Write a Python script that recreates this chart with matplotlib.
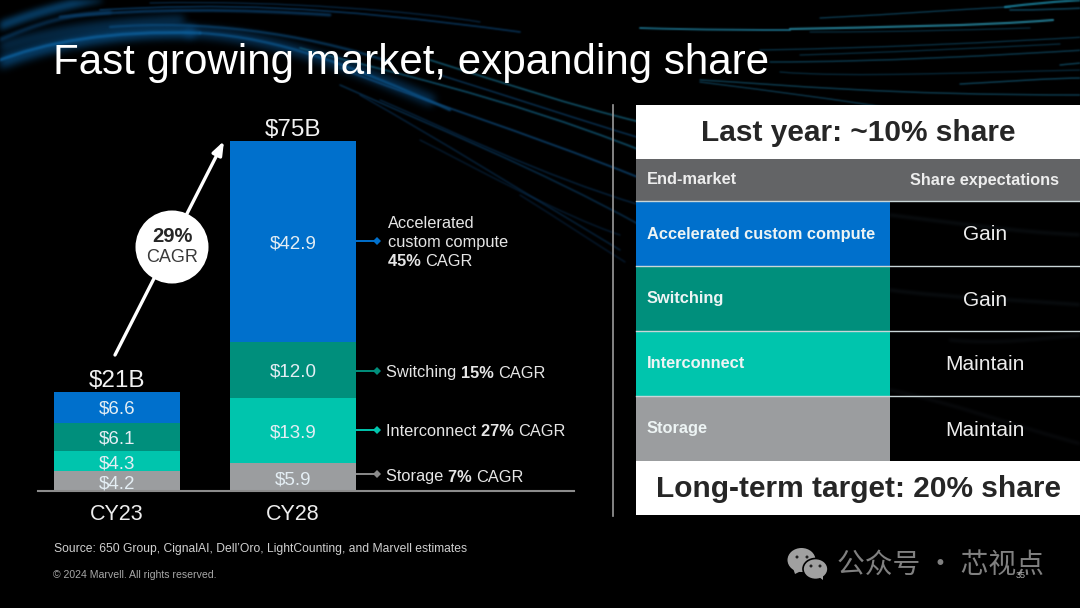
import matplotlib
matplotlib.use("Agg")
import numpy as np
import matplotlib.pyplot as plt
from matplotlib.colors import to_rgb
from matplotlib.patches import Rectangle, Circle, Ellipse, PathPatch, Polygon
from matplotlib.path import Path

# ---- data ----
years = ["CY23", "CY28"]
segments = ["Storage", "Interconnect", "Switching", "Accelerated custom compute"]
storage = [4.2, 5.9]
interconnect = [4.3, 13.9]
switching = [6.1, 12.0]
accelerated = [6.6, 42.9]
total_labels = ["$21B", "$75B"]
table_rows = ["Accelerated custom compute", "Switching", "Interconnect", "Storage"]
table_share = ["Gain", "Gain", "Maintain", "Maintain"]

BLUE, DTEAL, LTEAL, GREY = "#0070CC", "#008F7C", "#00C5AD", "#9B9D9F"
FONT = "Liberation Sans"
plt.rcParams["font.family"] = [FONT, "DejaVu Sans"]

W, H = 1080, 608
fig = plt.figure(figsize=(W / 100, H / 100), dpi=100, facecolor="black")


def pixel_axes(z):
    a = fig.add_axes([0, 0, 1, 1], zorder=z)
    a.set_xlim(0, W)
    a.set_ylim(H, 0)
    a.axis("off")
    a.patch.set_alpha(0)
    return a


def blur(sigma, color):
    """agg filter: blurs only the alpha of a streak and keeps its colour."""
    pad = int(np.ceil(sigma * 3))
    k = np.exp(-0.5 * (np.arange(-pad, pad + 1) / sigma) ** 2)
    k /= k.sum()
    rgb = to_rgb(color)

    def f(im, dpi):
        a = np.pad(im[..., 3], pad)
        a = np.apply_along_axis(lambda m: np.convolve(m, k, mode="same"), 0, a)
        a = np.apply_along_axis(lambda m: np.convolve(m, k, mode="same"), 1, a)
        out = np.zeros(a.shape + (4,))
        out[..., 0], out[..., 1], out[..., 2] = rgb
        out[..., 3] = a
        return out, -pad, -pad
    return f


# ---- decorative background streaks ----
bg = pixel_axes(0)
streaks = [
    # soft glow of the left band
    ((-10, 66), (40, 46), (110, 30), (190, 32), "#0A5A98", 9, .7, 4),
    ((190, 32), (270, 36), (340, 62), (430, 100), "#0A4E86", 8, .6, 4),
    ((-10, 50), (40, 34), (90, 24), (180, 20), "#0A4C80", 7, .6, 4),
    ((-10, 30), (30, 14), (60, 6), (100, -2), "#0B5E9C", 6, .7, 3),
    # crisper strands in the band
    ((-5, 62), (45, 42), (110, 30), (200, 33), "#0D62A0", 2, .8, 1),
    ((200, 33), (280, 38), (350, 65), (450, 110), "#0D5E9A", 1.6, .75, 1),
    ((110, 27), (200, 20), (300, 32), (390, 62), "#0C5288", 1.6, .7, 1),
    ((-5, 42), (40, 22), (70, 14), (110, 12), "#0A4474", 2.5, .7, 1.5),
    ((60, 17), (150, 8), (240, 9), (330, 15), "#0A3F6C", 2, .8, 1),
    ((100, 10), (220, 3), (320, 5), (520, 32), "#0A3F6C", 1.2, .8, .8),
    ((150, 3), (280, 0), (420, 12), (480, 22), "#0A3860", 1, .7, .8),
    # dim rays toward the lower right
    ((340, 68), (420, 100), (520, 130), (640, 178), "#0E4E82", 1.3, .75, .8),
    ((300, 48), (380, 70), (500, 95), (640, 150), "#14688C", 1.2, .75, .8),
    ((340, 85), (430, 125), (540, 170), (640, 225), "#0C4674", 1.1, .65, .8),
    ((360, 95), (440, 140), (520, 190), (620, 250), "#0B3E6C", 1, .6, .8),
    ((380, 100), (450, 130), (540, 175), (640, 205), "#0B3E6C", 1, .6, .8),
    ((420, 140), (470, 165), (560, 215), (620, 235), "#0A345C", 1, .55, .8),
    ((430, 60), (510, 85), (570, 105), (640, 122), "#176F8E", 1.1, .8, .8),
    ((440, 75), (520, 100), (580, 120), (640, 138), "#0E4E82", 1, .7, .8),
    ((520, 195), (560, 220), (590, 240), (625, 262), "#0A3058", 1, .55, .8),
    # right teal strands
    ((640, 28), (700, 30), (760, 30), (790, 30), "#1B6E88", 1.4, .9, .7),
    ((790, 29), (880, 27), (980, 26), (1053, 20), "#237A90", 1.6, .95, .7),
    ((820, 18), (900, 14), (980, 8), (1010, 7), "#0F4A66", 1, .8, .7),
    ((1005, 7), (1030, 4), (1060, 1), (1085, 0), "#18768F", 1.6, .95, .7),
    ((1010, 10), (1040, 10), (1060, 9), (1085, 8), "#104E68", 1.2, .8, .7),
    ((810, 32), (900, 32), (960, 30), (1030, 28), "#0C3E56", 1, .7, .7),
    ((760, 50), (880, 48), (1000, 42), (1085, 37), "#0C3E56", 1, .8, .7),
    ((800, 55), (900, 52), (980, 48), (1060, 44), "#0C3E56", 1, .7, .7),
    ((770, 62), (880, 62), (1000, 55), (1085, 50), "#0E465E", 1.1, .8, .7),
    ((1060, 65), (1070, 64), (1078, 63), (1085, 63), "#104E68", 1.1, .8, .7),
    ((780, 72), (850, 78), (980, 72), (1085, 70), "#0B3A52", 1, .7, .7),
    ((960, 84), (1000, 82), (1050, 78), (1085, 78), "#104E68", 1.1, .8, .7),
    ((700, 80), (790, 85), (880, 95), (1085, 95), "#104A62", 1.1, .8, .7),
    ((700, 82), (780, 92), (840, 100), (890, 108), "#0E4058", 1.1, .8, .7),
    # very faint strands behind the table's dark column
    ((890, 215), (950, 222), (1010, 232), (1085, 235), "#0D1216", 2, .9, 1.5),
    ((890, 290), (950, 298), (1020, 300), (1085, 305), "#0D1216", 2, .9, 1.5),
    ((950, 340), (1000, 345), (1040, 338), (1085, 335), "#0C0F12", 2, .9, 1.5),
    ((890, 390), (950, 402), (1010, 425), (1085, 445), "#0B0D10", 2, .9, 1.5),
]
for p0, p1, p2, p3, col, lw, al, sig in streaks:
    path = Path([p0, p1, p2, p3], [Path.MOVETO, Path.CURVE4, Path.CURVE4, Path.CURVE4])
    patch = PathPatch(path, fc="none", ec=col, lw=lw, alpha=al, capstyle="round")
    patch.set_agg_filter(blur(sig, col))
    bg.add_patch(patch)

# ---- stacked bars ----
left, right, base, top = 38, 574, 491, 141
ax = fig.add_axes([left / W, 1 - base / H, (right - left) / W, (base - top) / H], zorder=1)
ax.patch.set_alpha(0)
x = [0, 1]
ax.set_xlim((left - 116.8) / 176.2, (right - 116.8) / 176.2)
ax.set_ylim(0, sum(v[1] for v in (storage, interconnect, switching, accelerated)))
bottom = [0, 0]
for vals, col in zip((storage, interconnect, switching, accelerated), (GREY, LTEAL, DTEAL, BLUE)):
    ax.bar(x, vals, 0.717, bottom=bottom, color=col, linewidth=0, clip_on=False)
    for xi, b, v in zip(x, bottom, vals):
        ax.annotate(f"${v:.1f}", (xi, b + v / 2), xytext=(0, -1.7), textcoords="offset points",
                    ha="center", va="center", color="#E4EEF4", fontsize=13.5, annotation_clip=False)
    bottom = [b + v for b, v in zip(bottom, vals)]
for xi, b, lab in zip(x, bottom, total_labels):
    ax.annotate(lab, (xi, b), xytext=(0, 0), textcoords="offset points", ha="center", va="bottom",
                color="#F2F2F2", fontsize=17.5, annotation_clip=False)
ax.set_xticks(x, years)
ax.tick_params(axis="x", length=0, pad=9.5, labelsize=15.5, labelcolor="#EDEDED")
ax.set_yticks([])
for s in ("top", "left", "right"):
    ax.spines[s].set_visible(False)
ax.spines["bottom"].set_color("#8C8C8C")
ax.spines["bottom"].set_linewidth(1.5)

# ---- overlay ----
ov = pixel_axes(2)
renderer = fig.canvas.get_renderer()


def runs(x0, y, parts, size, color="#E6E6E6"):
    """Draw consecutive text runs; each part is (text, bold)."""
    cx = x0
    for txt, bold in parts:
        t = ov.text(cx, y, txt, fontsize=size, color=color, va="center",
                    fontweight="bold" if bold else "normal")
        cx = t.get_window_extent(renderer).x1


ov.text(53, 74, "Fast growing market, expanding share", fontsize=30.3, color="white", va="baseline")

# growth arrow and bubble
ov.annotate("", xy=(224, 141), xytext=(115, 355),
            arrowprops=dict(arrowstyle="-|>,head_length=0.8,head_width=0.3", color="white", lw=2.4,
                            shrinkA=0, shrinkB=0))
ov.add_patch(Circle((172, 247), 36.5, fc="white", ec="none", zorder=5))
ov.text(172, 237, "29%", fontsize=14.5, fontweight="bold", color="#262626", ha="center", va="center", zorder=6)
ov.text(172, 258, "CAGR", fontsize=13, color="#3A3A3A", ha="center", va="center", zorder=6)

# callouts
for y, col in zip((241, 371, 430, 474), (BLUE, DTEAL, LTEAL, "#8A8A8A")):
    ov.plot([356, 376], [y, y], color=col, lw=1.4, solid_capstyle="butt")
    ov.plot([377], [y], marker="D", ms=4.5, color=col, mew=0)
ov.text(388, 223, "Accelerated", fontsize=11.8, color="#E6E6E6", va="center")
ov.text(388, 243, "custom compute", fontsize=11.8, color="#E6E6E6", va="center")
runs(388, 262, [("45% ", True), ("CAGR", False)], 11.8)
runs(386, 373, [("Switching ", False), ("15% ", True), ("CAGR", False)], 11.8)
runs(386, 432, [("Interconnect ", False), ("27% ", True), ("CAGR", False)], 11.8)
runs(386, 477, [("Storage ", False), ("7% ", True), ("CAGR", False)], 11.8)

# divider
ov.plot([613, 613], [105, 516], color="#9A9A9A", lw=1.2)

# table
TX0, TX1, TXS = 636, 1080, 890
ov.add_patch(Rectangle((TX0, 105), TX1 - TX0, 54, fc="white", ec="none"))
ov.text(858, 133, "Last year: ~10% share", fontsize=21.5, fontweight="bold", color="#262626", ha="center", va="center")
ov.add_patch(Rectangle((TX0, 159), TX1 - TX0, 42, fc="#636466", ec="none"))
ov.text(647, 180, "End-market", fontsize=11.8, fontweight="bold", color="#EDEDED", va="center")
ov.text(985, 180, "Share expectations", fontsize=11.7, fontweight="bold", color="#EDEDED", ha="center", va="center")
edges = [201, 266, 331, 396, 461]
for i, (name, share, col) in enumerate(zip(table_rows, table_share, (BLUE, DTEAL, LTEAL, GREY))):
    y0, y1 = edges[i], edges[i + 1]
    ov.add_patch(Rectangle((TX0, y0), TXS - TX0, y1 - y0, fc=col, ec="none"))
    ov.text(647, (y0 + y1) / 2 + 0.5, name, fontsize=11.8, fontweight="bold", color="#EDF4F4", va="center")
    ov.text(985, (y0 + y1) / 2 + 1.5, share, fontsize=15, color="#EDEDED", ha="center", va="center")
    ov.plot([TX0, TX1], [y0, y0], color="#C9D6D8", lw=1)
ov.add_patch(Rectangle((TX0, 461), TX1 - TX0, 54, fc="white", ec="none"))
ov.text(858, 489, "Long-term target: 20% share", fontsize=21.5, fontweight="bold", color="#262626", ha="center", va="center")

# footer
ov.text(54, 549, "Source: 650 Group, CignalAI, Dell\u2019Oro, LightCounting, and Marvell estimates",
        fontsize=8.7, color="#D0D0D0", va="center")
ov.text(53, 575, "\u00a9 2024 Marvell. All rights reserved.", fontsize=7.6, color="#A8A8A8", va="center")

# watermark
GR = "#A0A0A0"
ov.add_patch(Ellipse((801.5, 560), 28, 24, fc=GR, ec="none"))
ov.add_patch(Polygon([(793, 568), (795, 574), (801, 571)], fc=GR, ec="none"))
ov.add_patch(Ellipse((815.5, 569), 25, 21, fc=GR, ec="black", lw=1.2, zorder=4))
ov.add_patch(Polygon([(819, 577), (823, 580), (823, 575)], fc=GR, ec="none", zorder=4))
for cx, cy, z in ((797, 557, 3), (807, 557, 3), (811, 566, 5), (820, 566, 5)):
    ov.add_patch(Circle((cx, cy), 1.5, fc="#222222", ec="none", zorder=z))
ov.text(837, 565, "公众号 · 芯视点", fontsize=20, color="#808080", va="center",
        family=["Noto Sans CJK SC", "DejaVu Sans"])
ov.text(1021, 575, "35", fontsize=6.5, color="#B0B0B0", ha="center", va="center")

fig.savefig("out.png", dpi=100, facecolor="black")
